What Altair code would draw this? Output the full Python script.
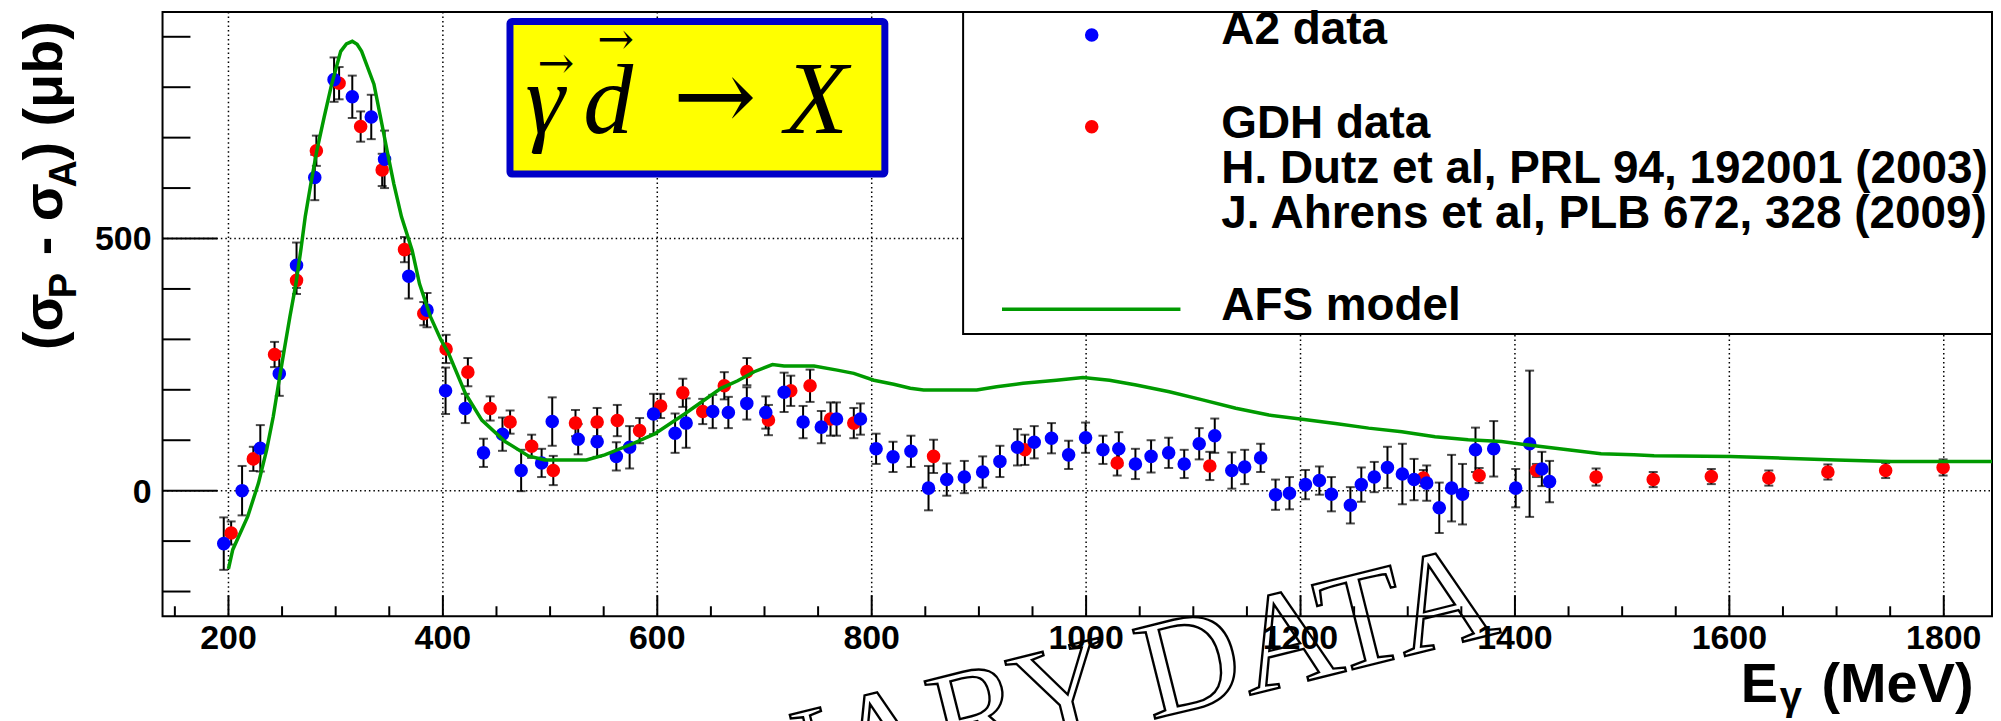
import altair as alt
import pandas as pd

# ---------------- data ----------------
a2_e = [195.6, 212.7, 229.7, 247.4, 263.5, 280.5, 298.5, 315.5, 333.2, 345.6, 368.2, 385.2,
        402.5, 420.9, 437.9, 455.6, 473.0, 492.1, 502.0, 526.2, 543.9, 561.8, 574.2, 596.5,
        616.6, 626.9, 651.7, 666.3, 683.5, 701.2, 718.3, 736.0, 753.0, 767.2, 789.5, 804.1,
        819.9, 836.6, 853.0, 870.0, 886.4, 903.5, 919.6, 936.0, 951.6, 967.7, 983.7, 999.5,
        1015.7, 1030.5, 1046.0, 1060.6, 1077.0, 1091.5, 1105.5, 1120.0, 1135.9, 1147.9, 1162.8,
        1176.7, 1189.7, 1204.6, 1217.6, 1228.8, 1246.5, 1256.7, 1268.8, 1281.1, 1295.0, 1305.9,
        1317.7, 1329.4, 1340.9, 1351.1, 1363.2, 1380.2, 1400.7, 1413.7, 1425.1, 1432.3]
a2_v = [-105, 0, 84, 232, 447, 621, 815, 781, 741, 657, 425, 358,
        198, 163, 75, 112, 40, 55, 137, 102, 97, 68, 86, 152,
        114, 134, 157, 155, 173, 155, 195, 136, 126, 142, 142, 83,
        67, 78, 5, 22, 27, 37, 58, 86, 96, 104, 71, 105,
        81, 83, 53, 68, 75, 53, 93, 109, 40, 47, 65,
        -8, -5, 12, 20, -7, -29, 12, 27, 46, 33, 22,
        15, -34, 5, -7, 81, 83, 5, 93, 43, 18]
a2_err = [52, 49, 46, 44, 45, 45, 44, 42, 44, 57, 44, 34,
          46, 29, 28, 33, 41, 28, 48, 30, 30, 28, 42, 40,
          39, 49, 33, 31, 32, 32, 39, 32, 32, 33, 31, 30,
          30, 31, 44, 32, 32, 31, 31, 36, 32, 30, 28, 30,
          28, 33, 30, 32, 30, 28, 31, 34, 36, 34, 28,
          30, 32, 29, 28, 34, 36, 34, 30, 41, 60, 41,
          35, 50, 66, 60, 44, 55, 38, 145, 34, 41]

gdh_e = [202.5, 223.2, 243.0, 263.5, 282.0, 303.2, 323.3, 343.4, 364.2, 382.2, 403.0, 423.3,
         444.1, 462.7, 482.8, 503.0, 523.7, 543.9, 562.7, 583.5, 603.1, 623.8, 642.4, 662.5,
         683.6, 703.7, 724.5, 742.5, 761.6, 783.3, 857.7, 942.9, 1029.0, 1115.4, 1314.6, 1366.6,
         1420.0, 1475.7, 1529.0, 1583.2, 1636.8, 1691.9, 1745.8, 1799.4]
gdh_v = [-84, 63, 270, 417, 674, 808, 722, 636, 478, 351, 281, 235,
         163, 136, 88, 40, 134, 136, 139, 119, 168, 194, 157, 208,
         236, 140, 198, 208, 142, 134, 68, 81, 55, 49, 25, 30,
         40, 27, 22, 28, 25, 37, 40, 46]
gdh_err = [23, 24, 25, 27, 30, 32, 30, 32, 25, 23, 28, 28,
           24, 23, 23, 29, 26, 28, 31, 25, 24, 28, 25, 27,
           27, 30, 30, 32, 33, 30, 33, 30, 25, 28, 16, 15,
           13, 17, 15, 15, 15, 15, 15, 16]

afs_e = [200, 204, 218, 228, 235.6, 241.8, 246.8, 252, 257.3, 262.9, 267.5, 271.6, 276.8,
         282.4, 289.2, 296.3, 304.7, 310, 315.5, 320, 324.2, 335.7, 341.9, 348, 354.3, 361.4,
         371.3, 378.2, 388.4, 398, 405.4, 421, 436.3, 458, 479.7, 495.2, 533.9, 551, 575.8,
         597.5, 625.4, 659.4, 675, 690.4, 707.4, 718.3, 746.2, 767.8, 783.3, 802, 820.5, 836,
         848.4, 898, 916.5, 941.3, 972.3, 997.1, 1021.8, 1046.7, 1077.6, 1108.6, 1139.6,
         1170.5, 1201.6, 1232.5, 1263.5, 1294.5, 1325.5, 1356.4, 1387.4, 1418.4, 1449.3,
         1480.3, 1511, 1529.8, 1601, 1650.7, 1700, 1751, 1845]
afs_v = [-155, -117, -51, 15, 81, 147, 213, 279, 345, 410, 477, 543, 608,
         674, 740, 806, 871, 886, 891, 885, 871, 806, 740, 674, 608, 543,
         477, 410, 345, 300, 272, 193, 140, 97.5, 69, 61, 61, 71, 92,
         112.6, 152, 203, 218, 235.8, 250, 247, 247, 239, 232.5, 219, 211, 203,
         199.6, 199.6, 206, 212.8, 219, 224.6, 219, 209.5, 196, 180, 163.4,
         150, 141.7, 133, 124, 117, 107, 100.8, 97.5, 89, 81,
         73, 71, 69, 67.8, 64.5, 61, 58, 58]

x_major = [200, 400, 600, 800, 1000, 1200, 1400, 1600, 1800]
x_minor = [150, 250, 300, 350, 450, 500, 550, 650, 700, 750, 850, 900, 950, 1050, 1100, 1150,
           1250, 1300, 1350, 1450, 1500, 1550, 1650, 1700, 1750]
y_major = [0, 500]
y_minor = [-200, -100, 100, 200, 300, 400, 600, 700, 800, 900]

legend_labels = ["A2 data", "GDH data", "H. Dutz et al, PRL 94, 192001 (2003)",
                 "J. Ahrens et al, PLB 672, 328 (2009)", "AFS model"]
watermark_words = ["PRELIMINARY", "DATA"]

# ---------------- styling ----------------
W, H = 1835, 606
XDOM = [138.5, 1845]
YDOM = [-249, 949]
SANS = "Liberation Sans, Arial, Helvetica, sans-serif"
SERIF = "Liberation Serif, Times New Roman, serif"
BLUE = "#0000ff"
RED = "#ff0000"
GREEN = "#009a00"
DOT = 185

xs = alt.Scale(domain=XDOM, nice=False, zero=False)
ys = alt.Scale(domain=YDOM, nice=False, zero=False)
X = lambda f: alt.X(f, type="quantitative", scale=xs, axis=None)
Y = lambda f: alt.Y(f, type="quantitative", scale=ys, axis=None)

a2 = pd.DataFrame({"E": a2_e, "v": a2_v, "err": a2_err})
gdh = pd.DataFrame({"E": gdh_e, "v": gdh_v, "err": gdh_err})
afs = pd.DataFrame({"E": afs_e, "v": afs_v})
xmaj = pd.DataFrame({"E": x_major})
xmin = pd.DataFrame({"E": x_minor})
ymaj = pd.DataFrame({"v": y_major})
ymin = pd.DataFrame({"v": y_minor})
one = pd.DataFrame({"a": [0]})

# dotted grid
grid_x = alt.Chart(xmaj).mark_rule(color="black", strokeWidth=1.5, strokeDash=[1.5, 3]).encode(
    x=X("E"), y=alt.value(0), y2=alt.value(H))
grid_y = alt.Chart(ymaj).mark_rule(color="black", strokeWidth=1.5, strokeDash=[1.5, 3]).encode(
    y=Y("v"), x=alt.value(0), x2=alt.value(W))

# tick labels
lab_x = alt.Chart(xmaj).mark_text(font=SANS, fontWeight="bold", fontSize=34, color="black",
                                  align="center", baseline="alphabetic").encode(
    x=X("E"), y=alt.value(639), text=alt.Text("E:Q", format="d"))
lab_y = alt.Chart(ymaj).mark_text(font=SANS, fontWeight="bold", fontSize=34, color="black",
                                  align="right", baseline="alphabetic", dy=12).encode(
    y=Y("v"), x=alt.value(-11), text=alt.Text("v:Q", format="d"))

# ticks pointing inward
xt_major = alt.Chart(xmaj).mark_rule(color="black", strokeWidth=2).encode(
    x=X("E"), y=alt.value(H - 21), y2=alt.value(H))
xt_minor = alt.Chart(xmin).mark_rule(color="black", strokeWidth=2).encode(
    x=X("E"), y=alt.value(H - 10), y2=alt.value(H))
yt_major = alt.Chart(ymaj).mark_rule(color="black", strokeWidth=2).encode(
    y=Y("v"), x=alt.value(0), x2=alt.value(55))
yt_minor = alt.Chart(ymin).mark_rule(color="black", strokeWidth=2).encode(
    y=Y("v"), x=alt.value(0), x2=alt.value(28))


def errbars(df):
    base = alt.Chart(df).transform_calculate(lo="datum.v - datum.err", hi="datum.v + datum.err")
    bar = base.mark_rule(color="black", strokeWidth=2).encode(x=X("E"), y=Y("lo"), y2="hi:Q")
    cap_lo = base.mark_tick(color="black", thickness=2, size=9, orient="horizontal").encode(
        x=X("E"), y=Y("lo"))
    cap_hi = base.mark_tick(color="black", thickness=2, size=9, orient="horizontal").encode(
        x=X("E"), y=Y("hi"))
    return [bar, cap_lo, cap_hi]


def points(df, color):
    return alt.Chart(df).mark_circle(size=DOT, color=color, opacity=1).encode(x=X("E"), y=Y("v"))


model = alt.Chart(afs).mark_line(color=GREEN, strokeWidth=3.5).encode(x=X("E"), y=Y("v"))


def txt(s, x, y, size, **kw):
    opts = dict(font=SANS, fontWeight="bold", fontSize=size, color="black",
                align="left", baseline="alphabetic")
    opts.update(kw)
    return alt.Chart(one).mark_text(**opts).encode(
        text=alt.value(s), x=alt.value(x), y=alt.value(y))


# yellow reaction box
box = alt.Chart(one).mark_rect(fill="#ffff00", stroke="#0000c8", strokeWidth=7, cornerRadius=2).encode(
    x=alt.value(348.5), x2=alt.value(724.5), y=alt.value(9.5), y2=alt.value(162.5))
serif_it = dict(font=SERIF, fontWeight="normal", fontStyle="italic")
box_text = [
    txt("γ", 364, 121, 100, **serif_it),
    txt("d", 422, 121, 100, **serif_it),
    txt("→", 512, 118, 100, font="DejaVu Serif", fontWeight="normal"),
    txt("X", 624, 121, 104, **serif_it),
    txt("→", 376, 66, 44, font="DejaVu Serif", fontWeight="normal"),
    txt("→", 436, 42, 44, font="DejaVu Serif", fontWeight="normal"),
]

# legend
leg_box = alt.Chart(one).mark_rect(fill="white", stroke="black", strokeWidth=2).encode(
    x=alt.value(803), x2=alt.value(1835), y=alt.value(0), y2=alt.value(323))
leg_blue = alt.Chart(one).mark_circle(size=DOT, color=BLUE, opacity=1).encode(
    x=alt.value(932), y=alt.value(23))
leg_red = alt.Chart(one).mark_circle(size=DOT, color=RED, opacity=1).encode(
    x=alt.value(932), y=alt.value(115))
leg_line = alt.Chart(one).mark_rule(color=GREEN, strokeWidth=3.5).encode(
    x=alt.value(842), x2=alt.value(1021), y=alt.value(298))
leg_text = [
    txt(legend_labels[0], 1062, 32, 46),
    txt(legend_labels[1], 1062, 126, 46),
    txt(legend_labels[2], 1062, 171, 46),
    txt(legend_labels[3], 1062, 217, 46),
    txt(legend_labels[4], 1062, 309, 46),
]

# axis titles
xtitle = [
    txt("E", 1583, 692, 56),
    txt("γ", 1622, 700, 40),
    txt("(MeV)", 1664, 692, 56),
]
ytitle = [
    txt("(σ", -101, 339, 56, angle=270),
    txt("P", -87, 287, 38, angle=270),
    txt("- σ", -101, 244, 56, angle=270),
    txt("A", -87, 176, 38, angle=270),
    txt(") (μb)", -101, 149, 56, angle=270),
]

# watermark: two words along one slanted baseline (14 degrees)
wm_style = dict(font=SERIF, fontSize=140, fontWeight="normal", angle=346, align="right",
                baseline="alphabetic", fillOpacity=0, stroke="black", strokeWidth=2.4)
wm_first = alt.Chart(one).mark_text(**wm_style).encode(
    text=alt.value(watermark_words[0]), x=alt.value(964), y=alt.value(716))
wm_second = alt.Chart(one).mark_text(**wm_style).encode(
    text=alt.value(watermark_words[1]), x=alt.value(1343), y=alt.value(622))

layers = ([grid_x, grid_y, leg_box, xt_major, xt_minor, yt_major, yt_minor, lab_x, lab_y]
          + errbars(a2) + errbars(gdh)
          + [points(gdh, RED), points(a2, BLUE), model, box] + box_text
          + [leg_blue, leg_red, leg_line] + leg_text + xtitle + ytitle
          + [wm_first, wm_second])

chart = alt.layer(*layers).properties(
    width=W, height=H,
    autosize=alt.AutoSizeParams(type="none"),
    padding={"left": 155, "top": 3, "right": 1, "bottom": 104},
    background="white",
).configure_view(stroke="black", strokeWidth=2)

chart.save("out.html", embed_options={"renderer": "svg", "actions": False})
